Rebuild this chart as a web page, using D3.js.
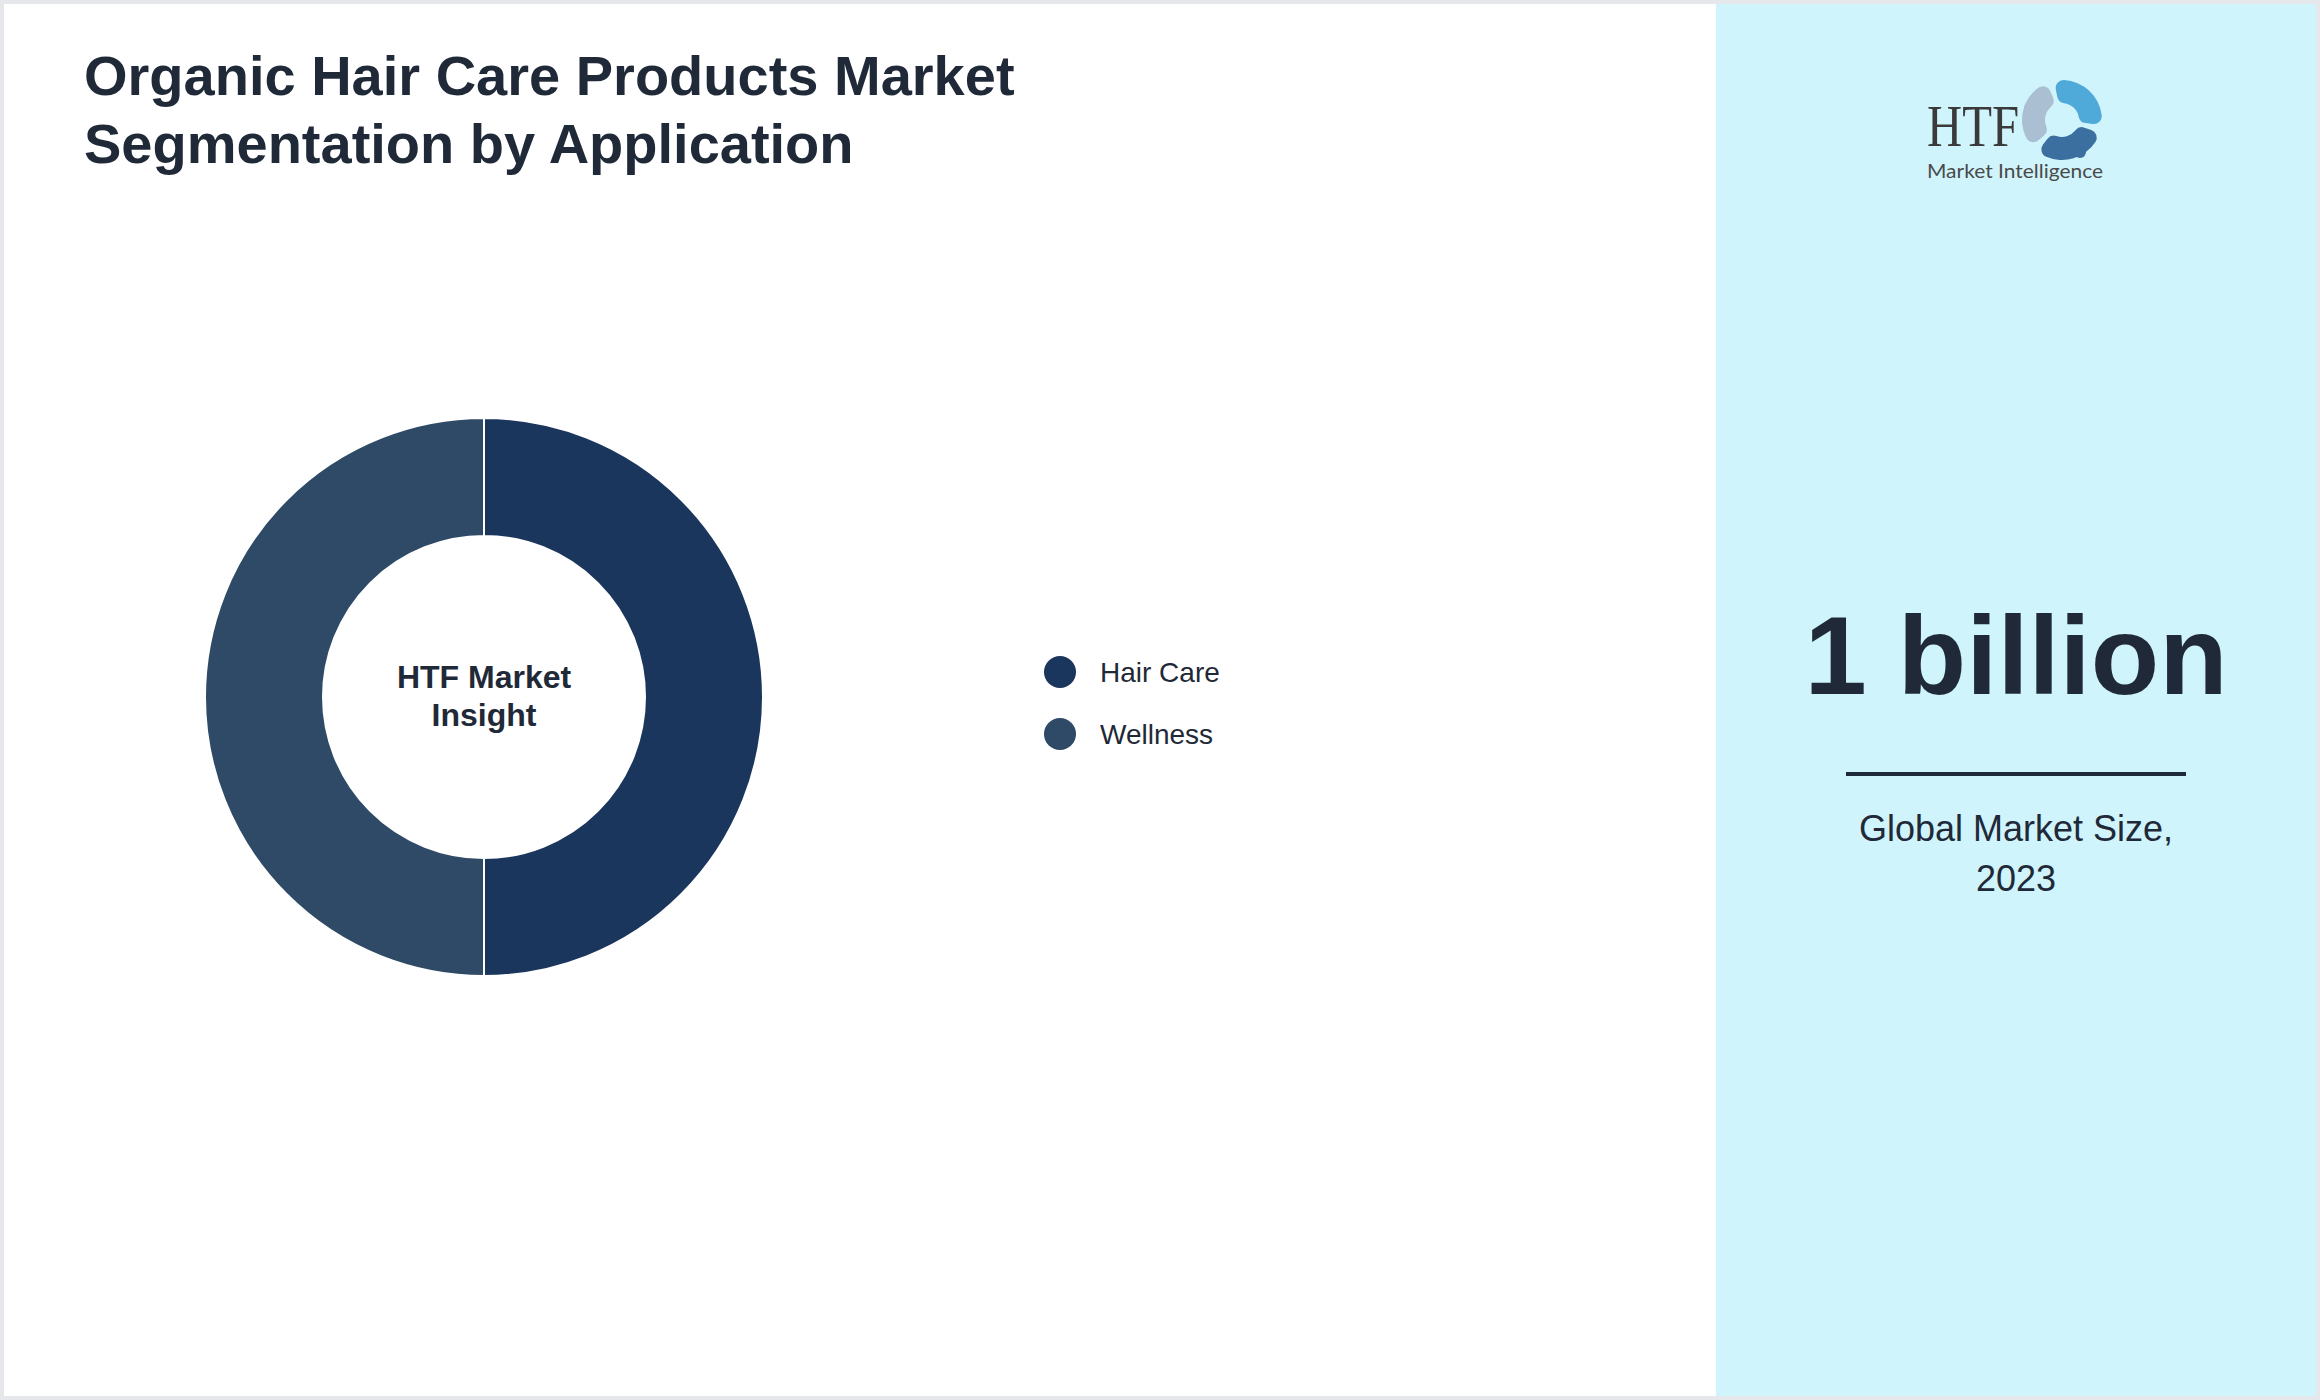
<!DOCTYPE html>
<html>
<head>
<meta charset="utf-8">
<script src="https://cdn.jsdelivr.net/npm/d3@7"></script>
<style>
  html, body { margin: 0; padding: 0; background: #fff; }
  svg { display: block; }
</style>
</head>
<body>
<div id="chart"></div>
<script>
// data
const segments = ["Hair Care", "Wellness"];
const shares = [50, 50];
const segColors = ["#1b365d", "#2e4a66"];
const titleLines = ["Organic Hair Care Products Market", "Segmentation by Application"];
const centerLines = ["HTF Market", "Insight"];
const marketSize = "1 billion";
const sizeLabel = ["Global Market Size,", "2023"];

const W = 2320, H = 1400;
const ink = "#1f2937";

const svg = d3.select("#chart")
    .append("svg")
    .attr("width", W)
    .attr("height", H)
    .style("font-family", "'Liberation Sans', Arial, sans-serif");

// frame + side panel
svg.append("rect").attr("width", W).attr("height", H).attr("fill", "#e5e7eb");
svg.append("rect").attr("x", 4).attr("y", 4).attr("width", W - 8).attr("height", H - 8).attr("fill", "#fff");
svg.append("rect").attr("x", 1716).attr("y", 4).attr("width", 600).attr("height", H - 8).attr("fill", "#cff4fc");

// title
svg.append("text")
    .attr("x", 84)
    .attr("y", 95)
    .attr("font-size", 56)
    .attr("font-weight", "bold")
    .attr("fill", ink)
    .selectAll("tspan")
    .data(titleLines)
    .join("tspan")
    .attr("x", 84)
    .attr("dy", (d, i) => i === 0 ? 0 : 68)
    .text(d => d);

// donut
const cx = 484, cy = 697, outerR = 279, innerR = 161;
const data = segments.map((s, i) => ({ name: s, value: shares[i] }));
const color = d3.scaleOrdinal().domain(segments).range(segColors);
const pie = d3.pie().sort(null).value(d => d.value);
const arc = d3.arc().innerRadius(innerR).outerRadius(outerR);

const g = svg.append("g").attr("transform", `translate(${cx},${cy})`);
g.selectAll("path")
    .data(pie(data))
    .join("path")
    .attr("d", arc)
    .attr("fill", d => color(d.data.name))
    .attr("stroke", "#fff")
    .attr("stroke-width", 2);

g.append("text")
    .attr("text-anchor", "middle")
    .attr("font-size", 32)
    .attr("font-weight", "bold")
    .attr("fill", ink)
    .selectAll("tspan")
    .data(centerLines)
    .join("tspan")
    .attr("x", 0)
    .attr("y", (d, i) => -9 + i * 38)
    .text(d => d);

// legend
const legend = svg.append("g").attr("transform", "translate(1060,672)");
const items = legend.selectAll("g")
    .data(segments)
    .join("g")
    .attr("transform", (d, i) => `translate(0,${i * 62})`);
items.append("circle").attr("r", 16).attr("fill", d => color(d));
items.append("text")
    .attr("x", 40)
    .attr("dy", "0.35em")
    .attr("font-size", 28)
    .attr("fill", ink)
    .text(d => d);

// side panel text
const px = 2016;
svg.append("text")
    .attr("x", px)
    .attr("y", 694)
    .attr("text-anchor", "middle")
    .attr("font-size", 112)
    .attr("font-weight", "bold")
    .attr("fill", ink)
    .text(marketSize);

svg.append("rect")
    .attr("x", 1846).attr("y", 772)
    .attr("width", 340).attr("height", 4)
    .attr("fill", ink);

svg.append("text")
    .attr("text-anchor", "middle")
    .attr("font-size", 36)
    .attr("fill", ink)
    .selectAll("tspan")
    .data(sizeLabel)
    .join("tspan")
    .attr("x", px)
    .attr("y", (d, i) => 841 + i * 50)
    .text(d => d);

// logo (HTF Market Intelligence)
const logo = svg.append("g");
logo.append("text")
    .attr("x", 1927).attr("y", 146)
    .attr("font-family", "'Liberation Serif', 'DejaVu Serif', serif")
    .attr("font-size", 60)
    .attr("textLength", 92)
    .attr("lengthAdjust", "spacingAndGlyphs")
    .attr("fill", "#3a3a3a")
    .text("HTF");
logo.append("text")
    .attr("x", 1927).attr("y", 178)
    .attr("font-family", "Lato, 'Open Sans', sans-serif")
    .attr("font-size", 19)
    .attr("textLength", 176)
    .attr("lengthAdjust", "spacingAndGlyphs")
    .attr("fill", "#4a4a4a")
    .text("Market Intelligence");

const swirl = d3.arc().innerRadius(17).outerRadius(40).cornerRadius(8);
const figs = [
    { a0: -0.2, a1: 1.7, c: "#4fa9d9", hx: 2068, hy: 88 },
    { a0: 1.9, a1: 3.8, c: "#3b6fa0", hx: 2080, hy: 152 },
    { a0: 4.0, a1: 5.9, c: "#aabfd1", hx: 2030, hy: 108 }
];
const fg = logo.append("g").attr("transform", "translate(2062,120)");
fg.selectAll("path")
    .data(figs)
    .join("path")
    .attr("d", d => swirl({ startAngle: d.a0, endAngle: d.a1 }))
    .attr("fill", d => d.c);
logo.selectAll("circle")
    .data(figs)
    .join("circle")
    .attr("cx", d => d.hx)
    .attr("cy", d => d.hy)
    .attr("r", 6)
    .attr("fill", d => d.c);
</script>
</body>
</html>
